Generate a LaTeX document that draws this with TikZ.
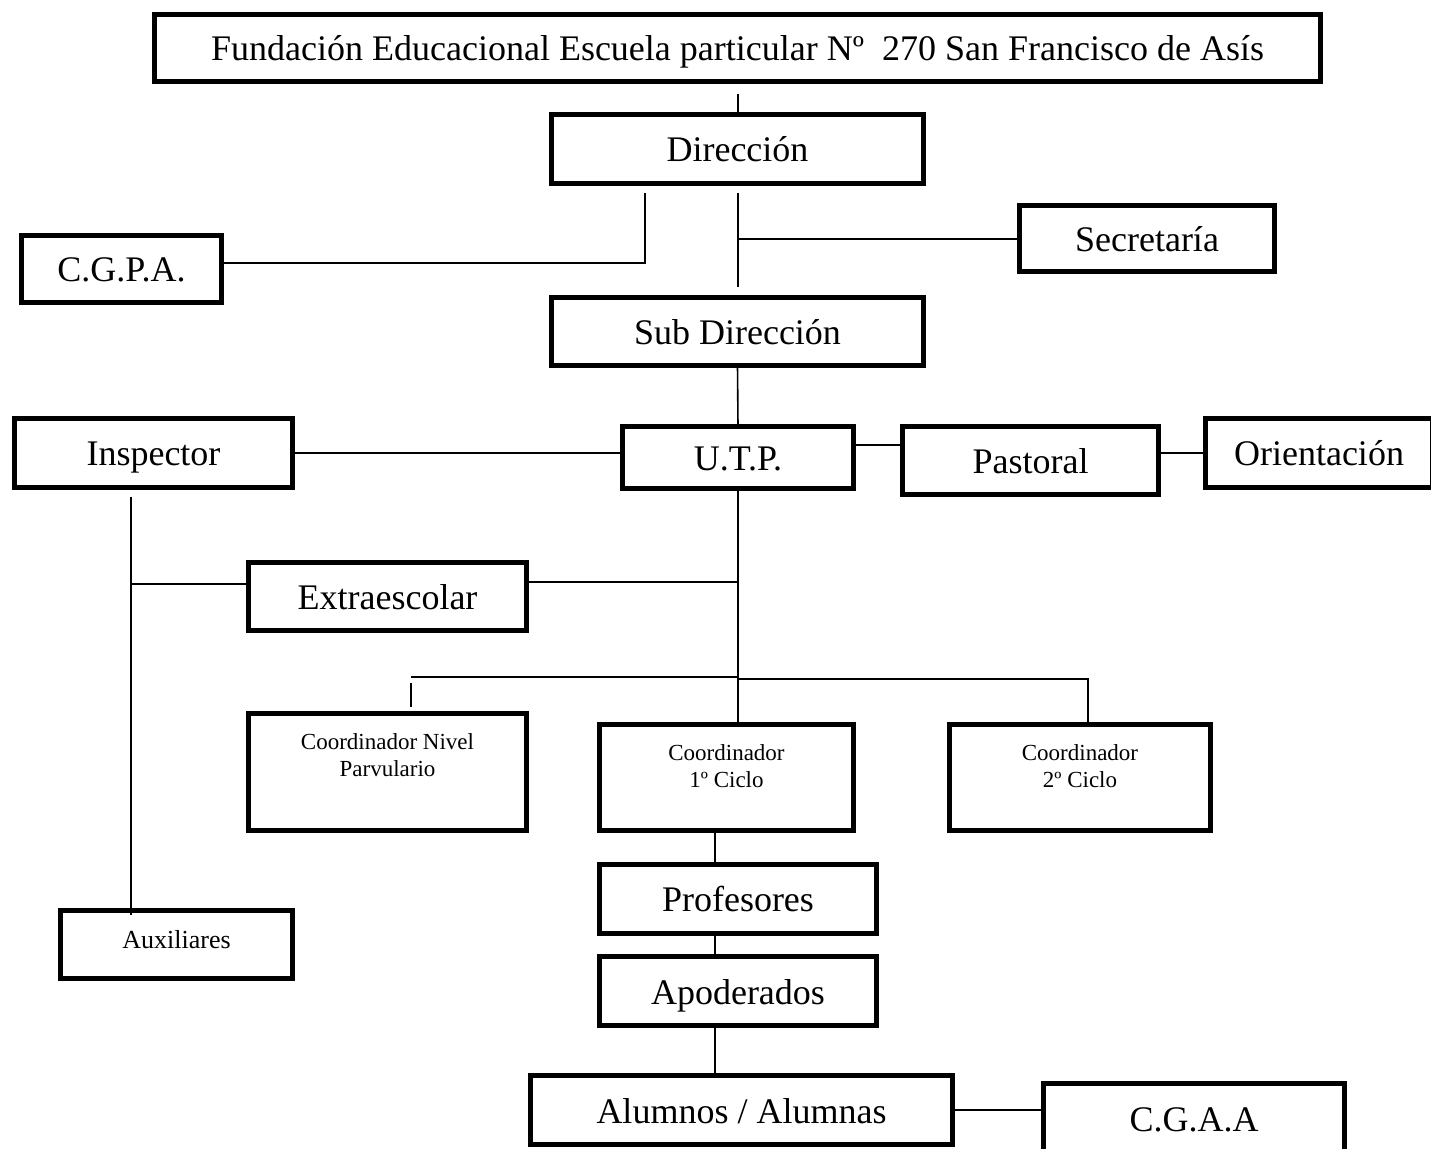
\documentclass[tikz,border=0pt]{standalone}
\usepackage{fontspec}
\setmainfont{Liberation Serif}
\begin{document}
\begin{tikzpicture}[x=0.5pt,y=-0.5pt,
    frame/.style={draw=black,line width=2.6pt,inner sep=0pt,outer sep=0pt},
    box/.style={frame,font=\fontsize{18}{21}\selectfont,text height=13pt,text depth=0pt},
    cbox/.style={frame},
    ctext/.style={font=\fontsize{11.5}{13.5}\selectfont,align=center,inner sep=0pt,
      anchor=north,yshift=-10pt},
    cline/.style={line width=0.8pt}]
  \useasboundingbox (0,0) rectangle (1431,1149);
  % boxes
  \node[box,minimum width=583pt,minimum height=33.5pt] (fund) at (737.5,48)
    {Fundación Educacional Escuela particular Nº~ 270 San Francisco de Asís};
  \node[box,minimum width=186pt,minimum height=34.5pt] (dir) at (737.5,149) {Dirección};
  \node[box,minimum width=100pt,minimum height=33.5pt] (cgpa) at (121.5,269) {C.G.P.A.};
  \node[box,minimum width=127.5pt,minimum height=33pt] (sec) at (1147,238.5) {Secretaría};
  \node[box,minimum width=186pt,minimum height=34pt] (sub) at (737.5,331.5) {Sub Dirección};
  \node[box,minimum width=139pt,minimum height=34.5pt] (insp) at (153.5,453) {Inspector};
  \node[box,minimum width=115.5pt,minimum height=31pt] (utp) at (738,457.5) {U.T.P.};
  \node[box,minimum width=128pt,minimum height=34pt] (past) at (1030.5,460.5) {Pastoral};
  \node[box,minimum width=113.5pt,minimum height=34.5pt] (ori) at (1319,453) {Orientación};
  \node[box,minimum width=139pt,minimum height=34pt] (extra) at (387.5,596.5) {Extraescolar};
  \node[cbox,minimum width=139pt,minimum height=58.5pt,
    label={[ctext]north:Coordinador Nivel\\Parvulario}] (cparv) at (387.5,772) {};
  \node[cbox,minimum width=127pt,minimum height=53pt,
    label={[ctext]north:Coordinador\\1º Ciclo}] (cuno) at (726.5,777.5) {};
  \node[cbox,minimum width=130.5pt,minimum height=53pt,
    label={[ctext]north:Coordinador\\2º Ciclo}] (cdos) at (1080,777.5) {};
  \node[box,minimum width=138.5pt,minimum height=34.5pt] (prof) at (738,899) {Profesores};
  \node[box,minimum width=138.5pt,minimum height=34.5pt] (apod) at (738,991) {Apoderados};
  \node[box,minimum width=211pt,minimum height=34.5pt] (alum) at (741.5,1110) {Alumnos / Alumnas};
  \node[box,minimum width=150.5pt,minimum height=34.5pt] (cgaa) at (1194,1118) {C.G.A.A};
  \node[box,font=\fontsize{13}{15}\selectfont,text height=4.5pt,
    minimum width=116pt,minimum height=34pt] (aux) at (176.5,944.5) {Auxiliares};
  % free ends
  \coordinate (f1) at (738,94);
  \coordinate (d1) at (645,193);
  \coordinate (d2) at (645,263);
  \coordinate (d3) at (738,193);
  \coordinate (d4) at (738,287);
  \coordinate (s1) at (738,239);
  \coordinate (u1) at (856,445);
  \coordinate (e1) at (529,582);
  \coordinate (i1) at (131,497);
  \coordinate (i2) at (131,584);
  \coordinate (i3) at (131,915);
  \coordinate (h1) at (411,677);
  \coordinate (h2) at (738,677);
  \coordinate (h3) at (738,679);
  \coordinate (h4) at (1088,679);
  \coordinate (h5) at (411,683);
  \coordinate (h6) at (411,707);
  \coordinate (v) at (715,0);
  % lines
  \begin{scope}[cline]
    \draw (f1) -- (f1 |- dir.north);
    \draw (d1) -- (d2) -- (d2 -| cgpa.east);
    \draw (d3) -- (d4);
    \draw (s1) -- (s1 -| sec.west);
    \draw (sub.south) -- (utp.north);
    \draw (insp.east) -- (insp.east -| utp.west);
    \draw (u1) -- (u1 -| past.west);
    \draw (past.east |- insp.east) -- (ori.west |- insp.east);
    \draw (utp.south) -- (utp.south |- cuno.north);
    \draw (e1) -- (e1 -| utp.south);
    \draw (i1) -- (i3);
    \draw (i2) -- (i2 -| extra.west);
    \draw (h1) -- (h2);
    \draw (h3) -- (h4) -- (h4 |- cdos.north);
    \draw (h5) -- (h6);
    \draw (v |- cuno.south) -- (v |- prof.north);
    \draw (v |- prof.south) -- (v |- apod.north);
    \draw (v |- apod.south) -- (v |- alum.north);
    \draw (alum.east) -- (alum.east -| cgaa.west);
  \end{scope}
\end{tikzpicture}
\end{document}
